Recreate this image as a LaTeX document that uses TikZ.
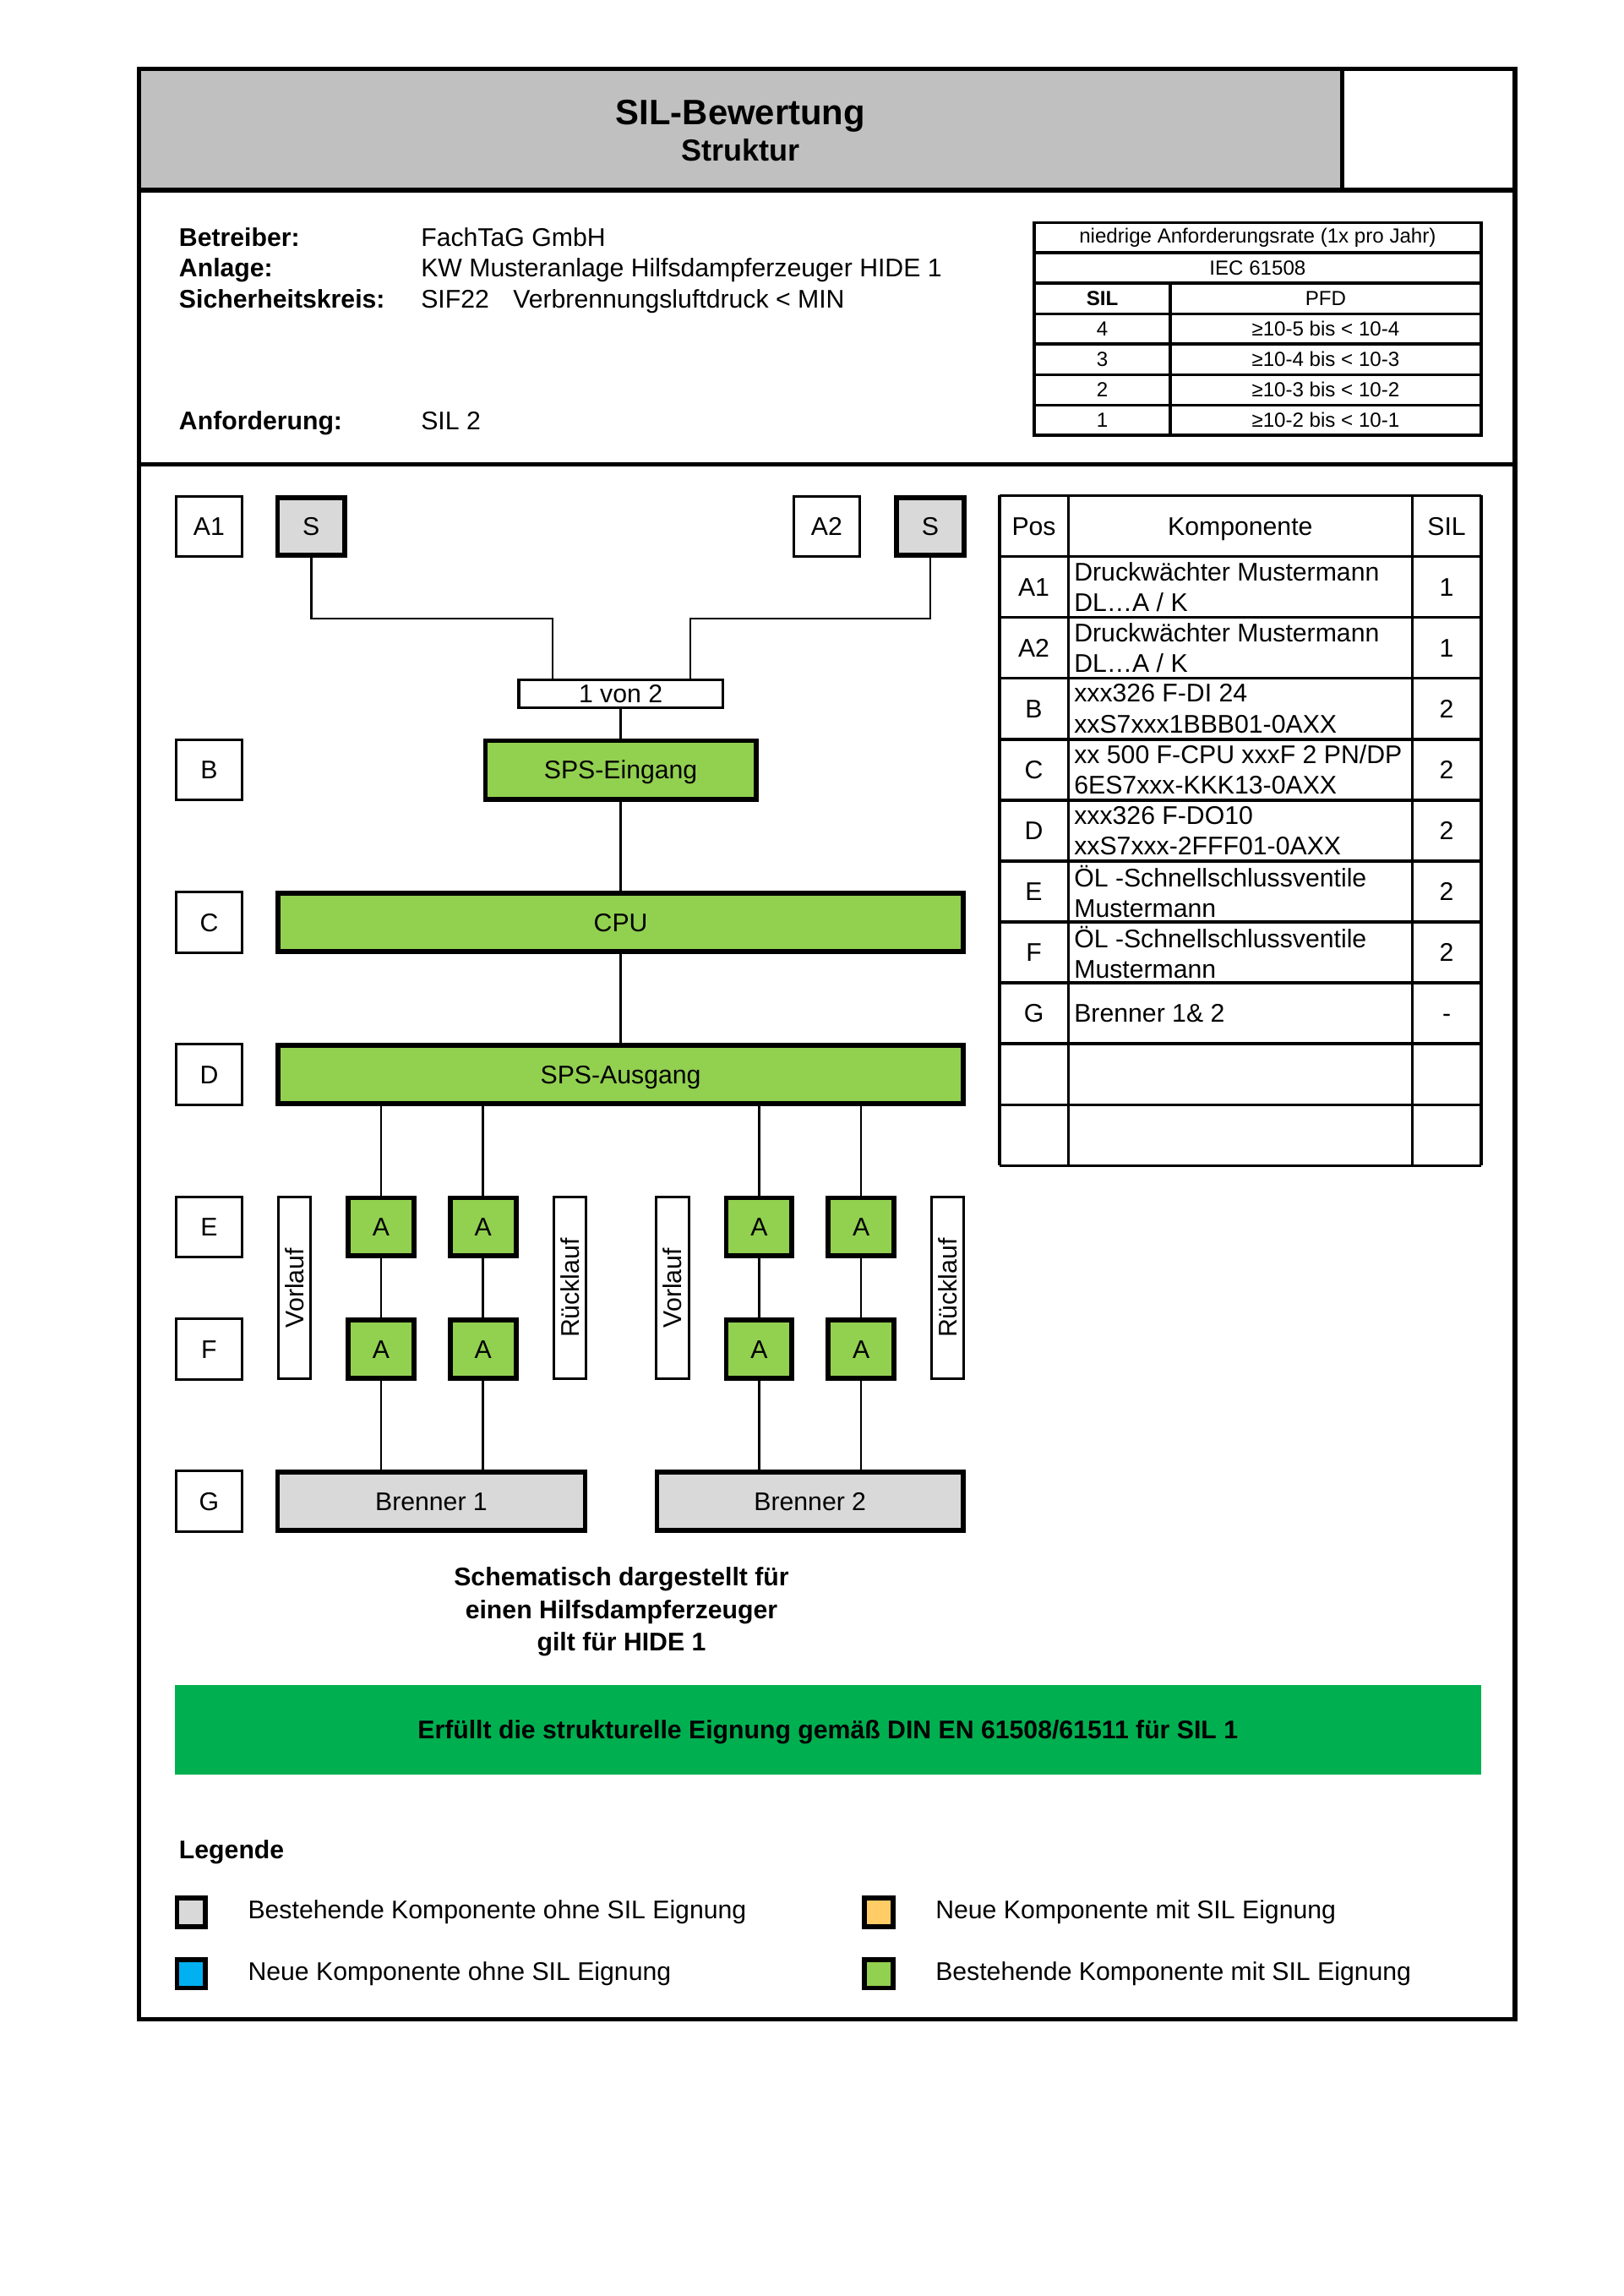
\documentclass[tikz,border=0pt]{standalone}
\usepackage{fontspec}
\setmainfont{Liberation Sans}
\definecolor{headgray}{HTML}{C0C0C0}
\definecolor{compgray}{HTML}{D9D9D9}
\definecolor{silgreen}{HTML}{92D050}
\definecolor{okgreen}{HTML}{00B050}
\definecolor{newblue}{HTML}{00B0F0}
\definecolor{neworange}{HTML}{FFCC66}
\newcommand{\normtxt}{\fontsize{9.4pt}{11.3pt}\selectfont}
\newcommand{\smalltxt}{\fontsize{7.5pt}{9pt}\selectfont}
\begin{document}
\begin{tikzpicture}[x=1mm,y=-1mm,line join=miter,font=\normtxt]
	\tikzset{cell/.style={text height=6.7pt,text depth=0pt},
		posbox/.style={cell,draw,line width=0.9pt,minimum width=8.6mm,minimum height=7.8mm,inner sep=0pt},
		greybox/.style={cell,draw,line width=1.8pt,fill=compgray,inner sep=0pt},
		okbox/.style={cell,draw,line width=1.8pt,fill=silgreen,inner sep=0pt},
		valve/.style={okbox,minimum width=8.5mm,minimum height=7.5mm},
		pipe/.style={cell,draw,line width=0.9pt,rotate=90,minimum width=23.5mm,minimum height=4.2mm,inner sep=0pt},
		conn/.style={line width=0.8pt},
		grid/.style={line width=1.1pt},
		legbox/.style={draw,line width=1.8pt,minimum size=3.7mm,inner sep=0pt}}
	\useasboundingbox (0,0) rectangle (210,297);
	% Rahmen und Kopf
	\fill[headgray] (18,8.9) rectangle (173.6,24.6);
	\draw[line width=1.6pt] (18,8.9) rectangle (196,261.2);
	\draw[line width=1.6pt] (18,24.6)--(196,24.6);
	\draw[line width=1.6pt] (18,60.1)--(196,60.1);
	\draw[line width=1.6pt] (173.6,8.9)--(173.6,24.6);
	\node[font=\fontsize{13pt}{15pt}\selectfont\bfseries,anchor=base] (titel) at (95.8,16.1) {SIL-Bewertung};
	\node[font=\fontsize{11.2pt}{13pt}\selectfont\bfseries,anchor=base] (untertitel) at (95.8,20.8) {Struktur};
	% Angaben
	\foreach \y/\k/\v [count=\i] in {31.9/Betreiber:/FachTaG GmbH,35.8/Anlage:/KW Musteranlage Hilfsdampferzeuger HIDE 1,39.8/Sicherheitskreis:/{SIF22\hspace{3.1mm}Verbrennungsluftdruck < MIN},55.6/Anforderung:/SIL 2}
	{
		\node[anchor=base west,inner sep=0pt,font=\normtxt\bfseries] (key\i) at (23.1,\y) {\k};
		\node[anchor=base west,inner sep=0pt] (val\i) at (54.4,\y) {\v};
	}
	% SIL-Tabelle
	\draw[grid] (133.8,28.8) rectangle (191.6,56.3);
	\foreach \y in {32.7,36.6,40.6,44.5,48.5,52.4}
	\draw[grid] (133.8,\y)--(191.6,\y);
	\draw[grid] (151.4,36.6)--(151.4,56.3);
	\node[font=\smalltxt] (rate) at (162.7,30.75) {niedrige Anforderungsrate (1x pro Jahr)};
	\node[font=\smalltxt] (norm) at (162.7,34.65) {IEC 61508};
	\node[font=\smalltxt\bfseries] (silkopf) at (142.6,38.6) {SIL};
	\node[font=\smalltxt] (pfdkopf) at (171.5,38.6) {PFD};
	\foreach \s/\p [count=\i] in {4/{≥10-5 bis < 10-4},3/{≥10-4 bis < 10-3},2/{≥10-3 bis < 10-2},1/{≥10-2 bis < 10-1}}
	{
		\node[font=\smalltxt] (sil\i) at (142.6,{42.55+3.93*(\i-1)}) {\s};
		\node[font=\smalltxt] (pfd\i) at (171.5,{42.55+3.93*(\i-1)}) {\p};
	}
	% Struktur
	\foreach \n/\y in {A1/68.1,B/99.6,C/119.3,D/139.0,E/158.7,F/174.5,G/194.2}
	\node[posbox] (pos\n) at (27.05,\y) {\n};
	\node[posbox] (posA2) at (106.95,68.1) {A2};
	\node[greybox,minimum width=8.7mm,minimum height=7.5mm] (s1) at (40.25,68.1) {S};
	\node[greybox,minimum width=8.7mm,minimum height=7.5mm] (s2) at (120.35,68.1) {S};
	\node[cell,draw,line width=1.1pt,minimum width=26.4mm,minimum height=3.6mm,inner sep=0pt] (vote) at (80.3,89.75) {1 von 2};
	\node[okbox,minimum width=35mm,minimum height=7.6mm] (spsein) at (80.3,99.6) {SPS-Eingang};
	\node[okbox,minimum width=88.7mm,minimum height=7.6mm] (cpu) at (80.3,119.3) {CPU};
	\node[okbox,minimum width=88.7mm,minimum height=7.6mm] (spsaus) at (80.3,139.0) {SPS-Ausgang};
	\foreach \x [count=\i] in {49.3,62.5,98.2,111.4}
	{
		\node[valve] (ve\i) at (\x,158.7) {A};
		\node[valve] (vf\i) at (\x,174.5) {A};
	}
	\node[pipe] (vor1) at (38.1,166.6) {Vorlauf};
	\node[pipe] (rueck1) at (73.75,166.6) {Rücklauf};
	\node[pipe] (vor2) at (87.0,166.6) {Vorlauf};
	\node[pipe] (rueck2) at (122.6,166.6) {Rücklauf};
	\node[greybox,minimum width=39.8mm,minimum height=7.6mm] (br1) at (55.8,194.2) {Brenner 1};
	\node[greybox,minimum width=39.6mm,minimum height=7.6mm] (br2) at (104.8,194.2) {Brenner 2};
	\coordinate (j1) at (71.5,80);
	\coordinate (j2) at (89.3,80);
	\draw[conn] (s1) |- (j1) -- (j1 |- vote.north);
	\draw[conn] (s2) |- (j2) -- (j2 |- vote.north);
	\draw[conn] (vote)--(spsein);
	\draw[conn] (spsein)--(cpu);
	\draw[conn] (cpu)--(spsaus);
	\foreach \i in {1,...,4}
	{
		\draw[conn] (ve\i |- spsaus.south)--(ve\i);
		\draw[conn] (ve\i)--(vf\i);
	}
	\foreach \i/\b in {1/br1,2/br1,3/br2,4/br2}
	\draw[conn] (vf\i)--(vf\i |- \b.north);
	% Komponententabelle
	\foreach \k in {0,...,11}
	\draw[grid] (129.3,{64.1+7.88*\k})--(191.6,{64.1+7.88*\k});
	\foreach \x in {129.3,138.2,182.7,191.6}
	\draw[grid] (\x,64.1)--(\x,150.78);
	\node[cell] (kpos) at (133.75,68.04) {Pos};
	\node[cell] (kkomp) at (160.45,68.04) {Komponente};
	\node[cell] (ksil) at (187.15,68.04) {SIL};
	\foreach \p/\k/\s [count=\i] in {A1/{Druckwächter Mustermann\\DL…A / K}/1,A2/{Druckwächter Mustermann\\DL…A / K}/1,B/{xxx326 F-DI 24\\xxS7xxx1BBB01-0AXX}/2,C/{xx 500 F-CPU xxxF 2 PN/DP\\6ES7xxx-KKK13-0AXX}/2,D/{xxx326 F-DO10\\xxS7xxx-2FFF01-0AXX}/2,E/{ÖL -Schnellschlussventile\\Mustermann}/2,F/{ÖL -Schnellschlussventile\\Mustermann}/2,G/{Brenner 1\& 2}/-}
	{
		\node[cell] (tpos\i) at (133.75,{64.1+7.88*(\i+0.5)}) {\p};
		\node[anchor=west,align=left,inner sep=0pt] (tkomp\i) at (138.9,{64.1+7.88*(\i+0.5)}) {\k};
		\node[cell] (tsil\i) at (187.15,{64.1+7.88*(\i+0.5)}) {\s};
	}
	% Hinweis und Ergebnis
	\node[font=\fontsize{9.4pt}{12pt}\selectfont\bfseries,align=center] (hinweis) at (80.4,208.5) {Schematisch dargestellt für\\einen Hilfsdampferzeuger\\gilt für HIDE 1};
	\node[cell,fill=okgreen,minimum width=169mm,minimum height=11.5mm,font=\normtxt\bfseries] (ergebnis) at (107.1,223.75) {Erfüllt die strukturelle Eignung gemäß DIN EN 61508/61511 für SIL 1};
	% Legende
	\node[anchor=west,inner sep=0pt,font=\normtxt\bfseries] (legende) at (23.1,239.6) {Legende};
	\foreach \c/\x/\y/\t [count=\i] in {compgray/24.75/247.35/Bestehende Komponente ohne SIL Eignung,neworange/113.7/247.35/Neue Komponente mit SIL Eignung,newblue/24.75/255.3/Neue Komponente ohne SIL Eignung,silgreen/113.7/255.3/Bestehende Komponente mit SIL Eignung}
	{
		\node[legbox,fill=\c] (leg\i) at (\x,\y) {};
		\node[anchor=west,inner sep=0pt] (legtext\i) at ([xshift=5.1mm]leg\i.east) {\t};
	}
\end{tikzpicture}
\end{document}
